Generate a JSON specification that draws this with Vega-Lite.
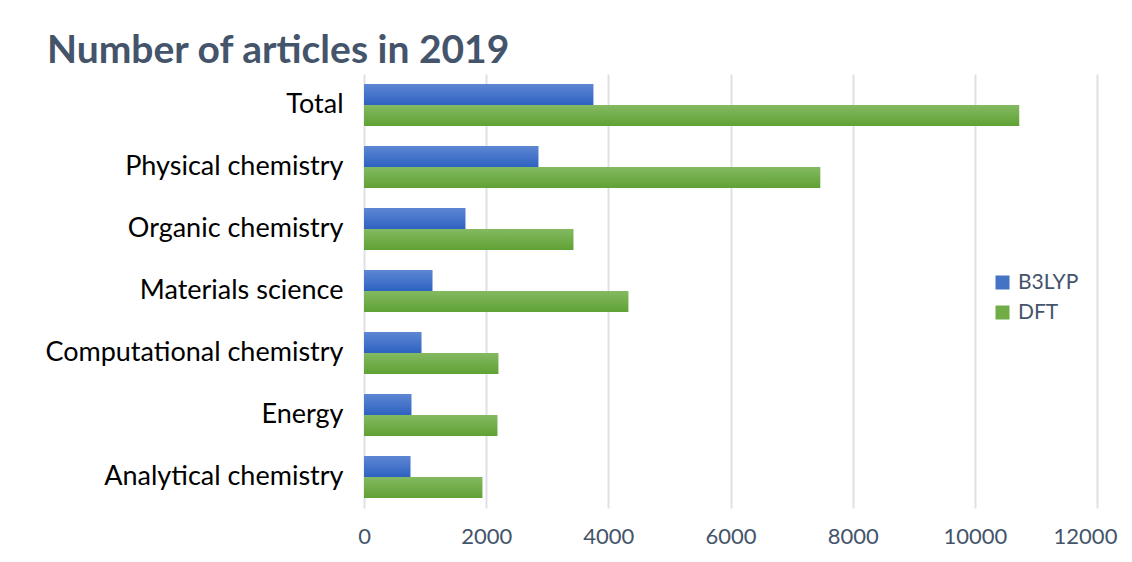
{
  "$schema": "https://vega.github.io/schema/vega-lite/v6.json",
  "width": 733,
  "height": 434,
  "autosize": {"type": "none"},
  "padding": {"left": 364, "top": 74, "right": 35, "bottom": 54},
  "background": "white",
  "title": {
    "text": "Number of articles in 2019",
    "anchor": "start",
    "frame": "group",
    "dx": -317,
    "dy": 39,
    "offset": 11,
    "baseline": "alphabetic",
    "font": "Lato",
    "fontSize": 39,
    "fontWeight": "bold",
    "color": "#44546A"
  },
  "config": {"view": {"stroke": null}},
  "data": {
    "values": [
      {"category": "Total", "series": "B3LYP", "value": 3753},
      {"category": "Total", "series": "DFT", "value": 10725},
      {"category": "Physical chemistry", "series": "B3LYP", "value": 2853},
      {"category": "Physical chemistry", "series": "DFT", "value": 7468},
      {"category": "Organic chemistry", "series": "B3LYP", "value": 1658},
      {"category": "Organic chemistry", "series": "DFT", "value": 3426},
      {"category": "Materials science", "series": "B3LYP", "value": 1118},
      {"category": "Materials science", "series": "DFT", "value": 4326},
      {"category": "Computational chemistry", "series": "B3LYP", "value": 938},
      {"category": "Computational chemistry", "series": "DFT", "value": 2198},
      {"category": "Energy", "series": "B3LYP", "value": 774},
      {"category": "Energy", "series": "DFT", "value": 2182},
      {"category": "Analytical chemistry", "series": "B3LYP", "value": 758},
      {"category": "Analytical chemistry", "series": "DFT", "value": 1936}
    ]
  },
  "encoding": {
    "y": {
      "field": "category",
      "type": "nominal",
      "sort": ["Total", "Physical chemistry", "Organic chemistry", "Materials science", "Computational chemistry", "Energy", "Analytical chemistry"],
      "scale": {"paddingInner": 0.32, "paddingOuter": 0.16},
      "axis": {
        "title": null,
        "domain": false,
        "ticks": false,
        "grid": false,
        "labelPadding": 21,
        "labelLimit": 0,
        "labelFont": "Lato",
        "labelFontSize": 27,
        "labelColor": "#000000"
      }
    },
    "yOffset": {"field": "series", "type": "nominal", "sort": ["B3LYP", "DFT"]},
    "x": {
      "field": "value",
      "type": "quantitative",
      "scale": {"domain": [0, 12000], "nice": false},
      "axis": {
        "title": null,
        "values": [0, 2000, 4000, 6000, 8000, 10000, 12000],
        "format": "d",
        "domain": false,
        "ticks": false,
        "grid": true,
        "gridColor": "#DDE1E7",
        "gridWidth": 2,
        "labelFlush": false,
        "labelOffset": {"condition": {"test": "datum.value === 12000", "value": -12}, "value": 0},
        "labelFont": "Lato",
        "labelFontSize": 22,
        "labelColor": "#44546A",
        "labelPadding": 18
      }
    }
  },
  "layer": [
    {
      "mark": {"type": "bar"},
      "encoding": {
        "color": {
          "field": "series",
          "type": "nominal",
          "scale": {"domain": ["B3LYP", "DFT"], "range": ["#4472C4", "#70AD47"]},
          "legend": {
            "title": null,
            "orient": "none",
            "legendX": 628,
            "legendY": 198,
            "symbolType": "square",
            "symbolSize": 196,
            "symbolStrokeWidth": 0,
            "labelFont": "Lato",
            "labelFontSize": 21,
            "labelColor": "#44546A",
            "labelOffset": 5,
            "rowPadding": 8
          }
        }
      }
    },
    {
      "transform": [{"filter": "datum.series === 'B3LYP'"}],
      "mark": {
        "type": "bar",
        "color": {
          "gradient": "linear", "x1": 0, "y1": 0, "x2": 0, "y2": 1,
          "stops": [{"offset": 0, "color": "#5E87D3"}, {"offset": 1, "color": "#2E62C1"}]
        }
      }
    },
    {
      "transform": [{"filter": "datum.series === 'DFT'"}],
      "mark": {
        "type": "bar",
        "color": {
          "gradient": "linear", "x1": 0, "y1": 0, "x2": 0, "y2": 1,
          "stops": [{"offset": 0, "color": "#84BA62"}, {"offset": 1, "color": "#5FA134"}]
        }
      }
    }
  ]
}
